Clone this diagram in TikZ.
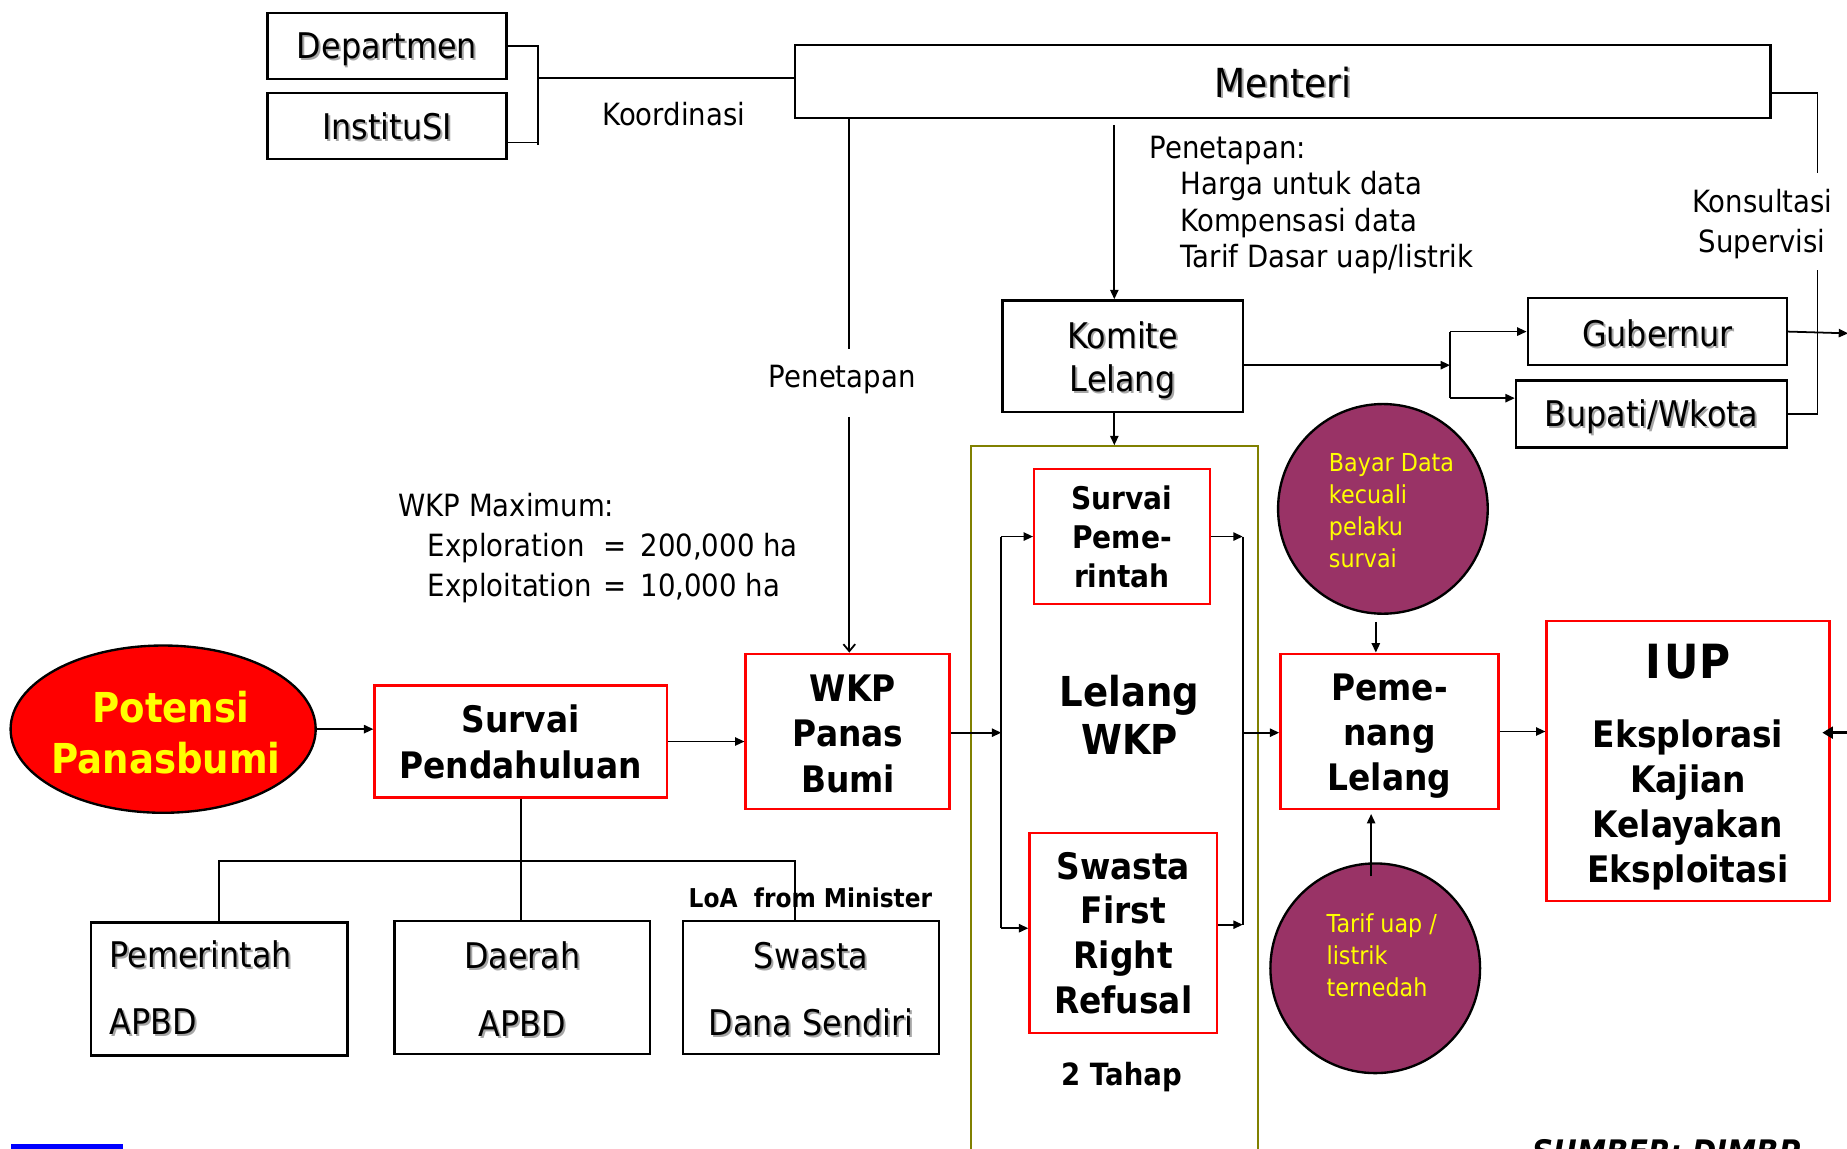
\documentclass[tikz,border=0pt]{standalone}
\usepackage{fontspec}
\setmainfont{DejaVu Sans}[FakeStretch=0.9]
\usetikzlibrary{arrows.meta,shapes.geometric,calc}
\definecolor{boxred}{RGB}{255,0,0}
\definecolor{plum}{RGB}{153,51,102}
\definecolor{olivebox}{RGB}{128,128,0}
\definecolor{ylw}{RGB}{255,255,0}
\definecolor{barblue}{RGB}{0,0,255}
\newcommand\shd[1]{\makebox[0pt][l]{\kern1.6pt\raisebox{-1.6pt}{\textcolor{black!35}{#1}}}#1}
\newcommand\lowered[2]{\raisebox{-#1}[\height][\depth]{#2}}
\tikzset{
 bbox/.style={draw=black, line width=2pt, inner sep=0pt, align=center, font=\fontsize{30}{37}\selectfont},
 rbox/.style={draw=boxred, line width=2pt, inner sep=0pt, align=center, font=\bfseries\fontsize{31}{38.5}\selectfont},
 btext/.style={inner sep=0pt, align=center, font=\bfseries\fontsize{31}{38.5}\selectfont},
 conn/.style={line width=1.5pt},
 arr/.style={line width=1.5pt, -{Triangle[length=8pt,width=7pt]}},
 lbl/.style={inner sep=0pt, font=\fontsize{26}{31}\selectfont},
 blob/.style={circle, draw=black, line width=2pt, fill=plum, inner sep=0pt, minimum size=178pt},
 ytext/.style={inner sep=0pt, text=ylw, align=left, font=\fontsize{21}{27}\selectfont},
}
\begin{document}
\begin{tikzpicture}[x=1pt,y=-1pt]
\useasboundingbox (0,0) rectangle (1568,975);
\clip (0,0) rectangle (1568,975);
\fill[white] (0,0) rectangle (1568,975);

% container
\node[draw=olivebox, line width=1.5pt, minimum width=244pt, minimum height=640pt, anchor=north] (frame) at (946,378) {};

% top nodes
\node[bbox, minimum width=203pt, minimum height=56pt] (dep) at (328.5,39) {\lowered{4pt}{\shd{Departmen}}};
\node[bbox, minimum width=203pt, minimum height=56pt] (inst) at (328.5,107) {\lowered{1pt}{\shd{InstituSI}}};
\node[bbox, minimum width=828pt, minimum height=62pt, font=\fontsize{34}{40}\selectfont] (menteri) at (1089,69) {\lowered{1.5pt}{\shd{Menteri}}};
\node[lbl] (koord) at (572,97) {Koordinasi};
\node[lbl] (penlbl) at (715,322) {Penetapan};
\node[lbl, align=left, anchor=west, font=\fontsize{26}{30.7}\selectfont] (penetapan) at (976,174) {Penetapan:\\\hspace*{26pt}Harga untuk data\\\hspace*{26pt}Kompensasi data\\\hspace*{26pt}Tarif Dasar uap/listrik};
\node[lbl, align=center, font=\fontsize{26}{34}\selectfont] (konsul) at (1496,190) {Konsultasi\\Supervisi};
\node[draw=black, line width=2pt, minimum width=204pt, minimum height=95pt] (komite) at (953,302.5) {};
\node[inner sep=0pt, align=center, font=\fontsize{30}{37}\selectfont] (komitetxt) at (953,306.5) {\shd{Komite}\\\shd{Lelang}};
\node[bbox, minimum width=220pt, minimum height=57pt] (gub) at (1407,281.5) {\lowered{2pt}{\shd{Gubernur}}};
\node[bbox, minimum width=230pt, minimum height=57pt] (bup) at (1402,351.5) {\lowered{3.5pt}{\shd{Bupati/Wkota}}};

% auction block
\node[rbox, minimum width=149pt, minimum height=115pt, font=\bfseries\fontsize{26.5}{33}\selectfont] (survpem) at (952.5,455.5) {Survai\\Peme-\\rintah};
\node[inner sep=0pt, align=center, font=\bfseries\fontsize{35}{41}\selectfont] (lelwkp) at (959,607) {Lelang\\WKP};
\node[rbox, minimum width=159pt, minimum height=170pt, font=\bfseries\fontsize{31}{38}\selectfont] (swfr) at (953.5,792) {Swasta\\First\\Right\\Refusal};
\node[inner sep=0pt, font=\bfseries\fontsize{26}{31}\selectfont] (tahap) at (952,914) {2 Tahap};

% circles and winner
\node[blob] (bayar) at (1174,432) {};
\node[ytext, anchor=west] (bayartxt) at (1128,433.5) {Bayar Data\\kecuali\\pelaku\\survai};
\node[draw=boxred, line width=2pt, minimum width=185pt, minimum height=132pt] (pemenang) at (1179.5,621) {};
\node[btext] (pemenangtxt) at (1179.5,625) {Peme-\\nang\\Lelang};
\node[blob] (tarif) at (1167.5,822) {};
\node[ytext, anchor=west] (tariftxt) at (1126,811) {Tarif uap /\\listrik\\ternedah};
\node[draw=boxred, line width=2pt, minimum width=240pt, minimum height=238pt] (iup) at (1433,646) {};
\node[btext, font=\bfseries\fontsize{31}{38}\selectfont] (iuptxt) at (1433,651) {{\fontsize{40}{48}\selectfont I\kern3pt UP}\\[21pt]Eksplorasi\\Kajian\\Kelayakan\\Eksploitasi};

% left flow
\node[ellipse, draw=black, line width=2pt, fill=boxred, minimum width=259pt, minimum height=142pt, inner sep=0pt] (potensi) at (138.5,619) {};
\node[btext, text=ylw, font=\bfseries\fontsize{35}{43}\selectfont] (potensitxt) at (141,622) {\hspace*{8pt}Potensi\\Panasbumi};
\node[rbox, minimum width=248pt, minimum height=95pt, font=\bfseries\fontsize{31}{39}\selectfont] (survpend) at (442,629.5) {Survai\\Pendahuluan};
\node[draw=boxred, line width=2pt, minimum width=173pt, minimum height=132pt] (wkp) at (719.5,621) {};
\node[btext] (wkptxt) at (720,623) {\hspace*{8pt}WKP\\Panas\\Bumi};
\node[lbl, align=left, anchor=west, font=\fontsize{26}{34}\selectfont] (wkpmax) at (338,465) {WKP Maximum:\\\hspace*{25pt}\makebox[149pt][l]{Exploration}=\hspace{12pt}200,000 ha\\\hspace*{25pt}\makebox[149pt][l]{Exploitation}=\hspace{12pt}10,000 ha};

% funding boxes
\node[bbox, minimum width=218pt, minimum height=113pt, font=\fontsize{30}{57}\selectfont, text width=186pt, align=left] (pem) at (186,839.5) {\shd{Pemerintah}\\\shd{APBD}};
\node[draw=black, line width=2pt, minimum width=217pt, minimum height=113pt] (dae) at (443.5,838.5) {};
\node[inner sep=0pt, align=center, font=\fontsize{30}{57}\selectfont] (daetxt) at (443.5,840.5) {\shd{Daerah}\\\shd{APBD}};
\node[draw=black, line width=2pt, minimum width=217pt, minimum height=113pt] (swa) at (688.5,838.5) {};
\node[inner sep=0pt, align=center, font=\fontsize{30}{57}\selectfont] (swatxt) at (688.5,840.5) {\shd{Swasta}\\\shd{Dana Sendiri}};
\node[inner sep=0pt, font=\bfseries\fontsize{22}{26}\selectfont] (loa) at (688,762) {LoA\ \ from Minister};

% footer
\node[inner sep=0pt, anchor=base west, font=\bfseries\itshape\fontsize{27.5}{33}\selectfont] (sumber) at (1301,988) {SUMBER: DJMBP};
\fill[barblue] (9,971) rectangle (104,985);

% coordinates
\coordinate (brk) at (457,66);
\coordinate (kr) at (1543,79);
\coordinate (br) at (1231,310);
\coordinate (yb) at (0,338);
\coordinate (gubout) at (1569,283);
\coordinate (iupin) at (1572,622);
\coordinate (lv) at (850,622);
\coordinate (rv) at (1055,622);
\coordinate (tb) at (675,731);
\coordinate (pA) at ($(menteri.south west)+(47,0)$);
\coordinate (kA) at ($(komite.north)+(-7,0)$);

% connectors top
\draw[conn] (dep.east) -| ($(inst.east -| brk)+(0,16)$);
\draw[conn] ($(inst.east)+(0,14)$) -- ($(inst.east -| brk)+(0,14)$);
\draw[conn] (brk) -- (brk -| menteri.west);
\draw[conn] (pA) -- ($(pA |- penlbl.center)+(0,-26)$);
\draw[conn, -{Straight Barb[length=6pt,width=10pt]}] ($(pA |- penlbl.center)+(0,32)$) -- (pA |- wkp.north);
\draw[arr] ($(menteri.south -| kA)+(0,5)$) -- (kA);
\draw[arr] (komite.south -| kA) -- (frame.north);
\draw[arr] (komite.east |- br) -- (br);
\draw[conn] (br |- gub.west) -- (br |- yb);
\draw[arr] (br |- gub.west) -- (gub.west);
\draw[arr] (br |- yb) -- (bup.west |- yb);
\draw[conn] (menteri.east |- kr) -- (kr) -- ($(kr)+(0,68)$);
\draw[conn] ($(bup.east -| kr)+(0,-122)$) -- (bup.east -| kr) -- (bup.east);
\draw[arr] (gub.east) -- (gubout);
\draw[line width=3pt, -{Triangle[length=9pt,width=10pt]}] (iupin) -- ($(iup.east |- iupin)+(-7,0)$);

% main flow
\draw[arr] (potensi.east) -- (potensi.east -| survpend.west);
\draw[arr] (survpend.east) -- (survpend.east -| wkp.west);
\draw[arr] (wkp.east |- lv) -- (lv);
\draw[conn] (lv |- survpem.west) -- ($(lv |- swfr.west)+(0,-4)$);
\draw[arr] (lv |- survpem.west) -- (survpem.west);
\draw[arr] ($(lv |- swfr.west)+(0,-4)$) -- ($(swfr.west)+(0,-4)$);
\draw[conn] (rv |- survpem.east) -- ($(rv |- swfr.east)+(0,-7)$);
\draw[arr] (survpem.east) -- (rv |- survpem.east);
\draw[arr] ($(swfr.east)+(0,-7)$) -- ($(rv |- swfr.east)+(0,-7)$);
\draw[arr] (rv) -- (rv -| pemenang.west);
\draw[arr] ($(bayar.south)+(-6,6)$) -- ($(pemenang.north)+(-11.5,0)$);
\draw[arr] ($(tarif.north)+(-3.5,12)$) -- ($(pemenang.south)+(-15.5,3)$);
\draw[arr] (pemenang.east) -- (pemenang.east -| iup.west);

% funding tree
\draw[conn] (survpend.south) -- (survpend.south |- dae.north);
\draw[line width=2pt] (pem.north) |- (tb) -- (tb |- swa.north);
\end{tikzpicture}
\end{document}
